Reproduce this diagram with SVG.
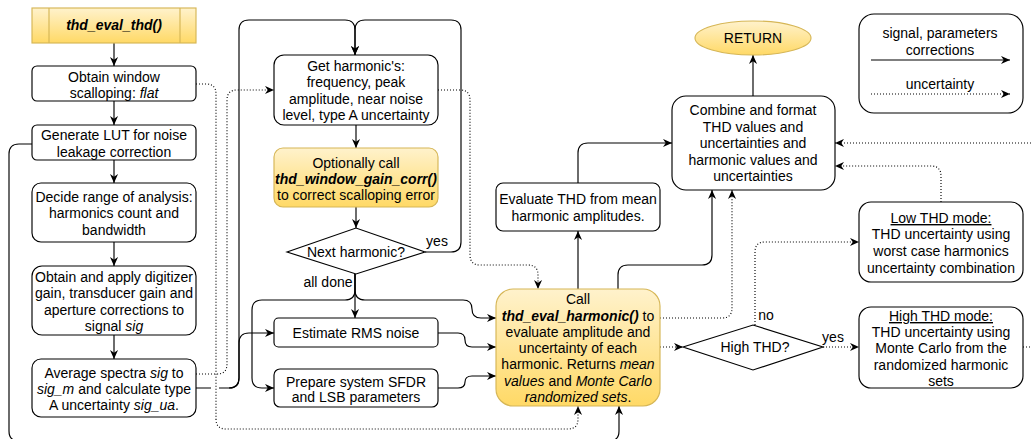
<svg xmlns="http://www.w3.org/2000/svg" width="1032" height="439" viewBox="0 0 1032 439">
  <style>
    .box { fill: #ffffff; stroke: #000000; stroke-width: 1.15; }
    .gold { fill: url(#goldFill); stroke: #d6b656; stroke-width: 1.15; }
    .lbl { font-family: "Liberation Sans", Arial, Helvetica, sans-serif; font-size: 14px; fill: #000000; text-anchor: middle; }
    .edge { fill: none; stroke: #000000; stroke-width: 1.15; }
    .dot { fill: none; stroke: #000000; stroke-width: 1.15; stroke-dasharray: 1 2; }
    .bi { font-weight: bold; font-style: italic; }
    .it { font-style: italic; }
  </style>
  <defs>
    <linearGradient id="goldFill" x1="0" y1="0" x2="0" y2="1">
      <stop offset="0" stop-color="#fff2cc"/>
      <stop offset="1" stop-color="#ffd966"/>
    </linearGradient>
    <marker id="arrow" viewBox="0 0 10 10" refX="10" refY="5" markerWidth="9" markerHeight="9" markerUnits="userSpaceOnUse" orient="auto">
      <path d="M0,0.5 L10,5 L0,9.5 L3,5 Z" fill="#000000"/>
    </marker>
  </defs>

  <!-- connectors -->
  <g id="connectors">
    <path class="edge" d="M114,43 V66" marker-end="url(#arrow)"/>
    <path class="edge" d="M114,101 V125" marker-end="url(#arrow)"/>
    <path class="edge" d="M114,160 V183" marker-end="url(#arrow)"/>
    <path class="edge" d="M114,242 V266" marker-end="url(#arrow)"/>
    <path class="edge" d="M114,335 V359" marker-end="url(#arrow)"/>
    <!-- averaged spectrum feeds the harmonic loop and the noise estimate -->
    <path class="edge" d="M196,388 H211 M219,388 H229 Q239,388 239,378 V30 Q239,20 249,20 H345 Q355,20 355,30 V55" marker-end="url(#arrow)"/>
    <path class="edge" d="M229,388 Q239,388 239,378 V343 Q239,333 249,333 H274" marker-end="url(#arrow)"/>
    <!-- loop back: next harmonic -->
    <path class="edge" d="M425,252 H451 Q461,252 461,242 V30 Q461,20 451,20 H365 Q355,20 355,30 V55" marker-end="url(#arrow)"/>
    <path class="edge" d="M356,125 V148" marker-end="url(#arrow)"/>
    <path class="edge" d="M356,207 V228" marker-end="url(#arrow)"/>
    <!-- all done branches -->
    <path class="edge" d="M355,274 V318" marker-end="url(#arrow)"/>
    <path class="edge" d="M355,274 V290 Q355,300 345,300 H262 Q252,300 252,310 V378 Q252,388 262,388 H274" marker-end="url(#arrow)"/>
    <path class="edge" d="M355,274 V290 Q355,300 365,300 H463 Q472,300 472,309 Q472,318 481,318 H496" marker-end="url(#arrow)"/>
    <path class="edge" d="M438,333 H458 Q465,333 465,340 Q465,347 472,347 H496" marker-end="url(#arrow)"/>
    <path class="edge" d="M438,388 H458 Q465,388 465,382 Q465,376 472,376 H496" marker-end="url(#arrow)"/>
    <path class="edge" d="M578,289 V231" marker-end="url(#arrow)"/>
    <path class="edge" d="M578,183 V153 Q578,143 588,143 H672" marker-end="url(#arrow)"/>
    <path class="edge" d="M618,289 V275 Q618,265 628,265 H702 Q712,265 712,255 V190" marker-end="url(#arrow)"/>
    <path class="edge" d="M753,96 V55" marker-end="url(#arrow)"/>
    <!-- noise leakage LUT -->
    <path class="edge" d="M32,144 H19 Q9,144 9,154 V431 Q9,441 19,441 H609 Q619,441 619,431 V406" marker-end="url(#arrow)"/>

    <!-- uncertainty paths -->
    <path class="dot" d="M196,84 H206 Q216,84 216,94 V419 Q216,429 226,429 H568 Q578,429 578,419 V406" marker-end="url(#arrow)"/>
    <path class="dot" d="M196,374 H217 Q227,374 227,364 V100 Q227,90 237,90 H274" marker-end="url(#arrow)"/>
    <path class="dot" d="M438,90 H460 Q470,90 470,100 V255 Q470,265 480,265 H528 Q538,265 538,275 V289" marker-end="url(#arrow)"/>
    <path class="dot" d="M660,318 H722 Q732,318 732,308 V190" marker-end="url(#arrow)"/>
    <path class="dot" d="M660,347 H683" marker-end="url(#arrow)"/>
    <path class="dot" d="M755,325 V252 Q755,242 765,242 H859" marker-end="url(#arrow)"/>
    <path class="dot" d="M823,347 H859" marker-end="url(#arrow)"/>
    <path class="dot" d="M1023,347 H1040"/>
    <path class="dot" d="M1040,143 H835" marker-end="url(#arrow)"/>
    <path class="dot" d="M941,202 V176 Q941,166 931,166 H835" marker-end="url(#arrow)"/>

    <text class="lbl" x="437" y="246">yes</text>
    <text class="lbl" x="328" y="287">all done</text>
    <text class="lbl" x="766" y="320">no</text>
    <text class="lbl" x="833" y="342">yes</text>
  </g>

  <g id="thd_eval_thd">
    <rect class="gold" x="32" y="8" width="164" height="35"/>
    <line x1="49" y1="8" x2="49" y2="43" stroke="#d6b656" stroke-width="1.15"/>
    <line x1="180" y1="8" x2="180" y2="43" stroke="#d6b656" stroke-width="1.15"/>
    <text class="lbl bi" x="114" y="30">thd_eval_thd()</text>
  </g>

  <g id="window_scalloping">
    <rect class="box" x="32" y="66" width="164" height="35" rx="5"/>
    <text class="lbl" x="114" y="82">Obtain window</text>
    <text class="lbl" x="114" y="98">scalloping: <tspan class="it">flat</tspan></text>
  </g>

  <g id="noise_lut">
    <rect class="box" x="32" y="125" width="164" height="35" rx="5"/>
    <text class="lbl" x="114" y="140">Generate LUT for noise</text>
    <text class="lbl" x="114" y="157">leakage correction</text>
  </g>

  <g id="analysis_range">
    <rect class="box" x="32" y="183" width="164" height="59" rx="9"/>
    <text class="lbl" x="114" y="202">Decide range of analysis:</text>
    <text class="lbl" x="114" y="218">harmonics count and</text>
    <text class="lbl" x="114" y="235">bandwidth</text>
  </g>

  <g id="apply_corrections">
    <rect class="box" x="32" y="266" width="164" height="69" rx="10"/>
    <text class="lbl" x="114" y="282">Obtain and apply digitizer</text>
    <text class="lbl" x="114" y="298">gain, transducer gain and</text>
    <text class="lbl" x="114" y="315">aperture corrections to</text>
    <text class="lbl" x="114" y="331">signal <tspan class="it">sig</tspan></text>
  </g>

  <g id="average_spectra">
    <rect class="box" x="32" y="359" width="164" height="58" rx="9"/>
    <text class="lbl" x="114" y="378">Average spectra <tspan class="it">sig</tspan> to</text>
    <text class="lbl" x="114" y="394"><tspan class="it">sig_m</tspan> and calculate type</text>
    <text class="lbl" x="114" y="410">A uncertainty <tspan class="it">sig_ua</tspan>.</text>
  </g>

  <g id="get_harmonic">
    <rect class="box" x="274" y="55" width="164" height="70" rx="10"/>
    <text class="lbl" x="356" y="71">Get harmonic's:</text>
    <text class="lbl" x="356" y="87">frequency, peak</text>
    <text class="lbl" x="356" y="104">amplitude, near noise</text>
    <text class="lbl" x="356" y="120">level, type A uncertainty</text>
  </g>

  <g id="window_gain_corr">
    <rect class="gold" x="274" y="148" width="164" height="59" rx="9"/>
    <text class="lbl" x="356" y="168">Optionally call</text>
    <text class="lbl bi" x="356" y="184">thd_window_gain_corr()</text>
    <text class="lbl" x="356" y="200">to correct scalloping error</text>
  </g>

  <g id="next_harmonic">
    <polygon class="box" points="287,252 356,228 425,252 356,274"/>
    <text class="lbl" x="356" y="257">Next harmonic?</text>
  </g>

  <g id="rms_noise">
    <rect class="box" x="274" y="318" width="164" height="29" rx="4.5"/>
    <text class="lbl" x="356" y="338">Estimate RMS noise</text>
  </g>

  <g id="sfdr_lsb">
    <rect class="box" x="274" y="369" width="164" height="38" rx="6"/>
    <text class="lbl" x="356" y="387">Prepare system SFDR</text>
    <text class="lbl" x="356" y="402">and LSB parameters</text>
  </g>

  <g id="thd_eval_harmonic">
    <rect class="gold" x="496" y="289" width="164" height="117" rx="17"/>
    <text class="lbl" x="578" y="304">Call</text>
    <text class="lbl" x="578" y="321"><tspan class="bi">thd_eval_harmonic()</tspan> to</text>
    <text class="lbl" x="578" y="337">evaluate amplitude and</text>
    <text class="lbl" x="578" y="353">uncertainty of each</text>
    <text class="lbl" x="578" y="369">harmonic. Returns <tspan class="it">mean</tspan></text>
    <text class="lbl" x="578" y="386"><tspan class="it">values</tspan> and <tspan class="it">Monte Carlo</tspan></text>
    <text class="lbl" x="578" y="402"><tspan class="it">randomized sets</tspan>.</text>
  </g>

  <g id="evaluate_thd">
    <rect class="box" x="496" y="183" width="164" height="48" rx="7"/>
    <text class="lbl" x="578" y="204">Evaluate THD from mean</text>
    <text class="lbl" x="578" y="221">harmonic amplitudes.</text>
  </g>

  <g id="combine_format">
    <rect class="box" x="672" y="96" width="163" height="94" rx="14"/>
    <text class="lbl" x="753" y="115">Combine and format</text>
    <text class="lbl" x="753" y="132">THD values and</text>
    <text class="lbl" x="753" y="148">uncertainties and</text>
    <text class="lbl" x="753" y="165">harmonic values and</text>
    <text class="lbl" x="753" y="181">uncertainties</text>
  </g>

  <g id="return">
    <ellipse class="gold" cx="753" cy="38" rx="58" ry="17"/>
    <text class="lbl" x="753" y="43">RETURN</text>
  </g>

  <g id="legend">
    <rect class="box" x="859" y="14" width="164" height="99" rx="15"/>
    <text class="lbl" x="940" y="38">signal, parameters</text>
    <text class="lbl" x="940" y="55">corrections</text>
    <path class="edge" d="M871,60 H1010" marker-end="url(#arrow)"/>
    <text class="lbl" x="940" y="89">uncertainty</text>
    <path class="dot" d="M871,94 H1010" marker-end="url(#arrow)"/>
  </g>

  <g id="high_thd">
    <polygon class="box" points="683,347 753,325 823,347 753,370"/>
    <text class="lbl" x="755" y="352">High THD?</text>
  </g>

  <g id="low_thd_mode">
    <rect class="box" x="859" y="202" width="164" height="80" rx="12"/>
    <text class="lbl" x="941" y="223" text-decoration="underline">Low THD mode:</text>
    <text class="lbl" x="941" y="239">THD uncertainty using</text>
    <text class="lbl" x="941" y="256">worst case harmonics</text>
    <text class="lbl" x="941" y="273">uncertainty combination</text>
  </g>

  <g id="high_thd_mode">
    <rect class="box" x="859" y="307" width="164" height="81" rx="12"/>
    <text class="lbl" x="941" y="321" text-decoration="underline">High THD mode:</text>
    <text class="lbl" x="941" y="337">THD uncertainty using</text>
    <text class="lbl" x="941" y="353">Monte Carlo from the</text>
    <text class="lbl" x="941" y="370">randomized harmonic</text>
    <text class="lbl" x="941" y="386">sets</text>
  </g>
</svg>
